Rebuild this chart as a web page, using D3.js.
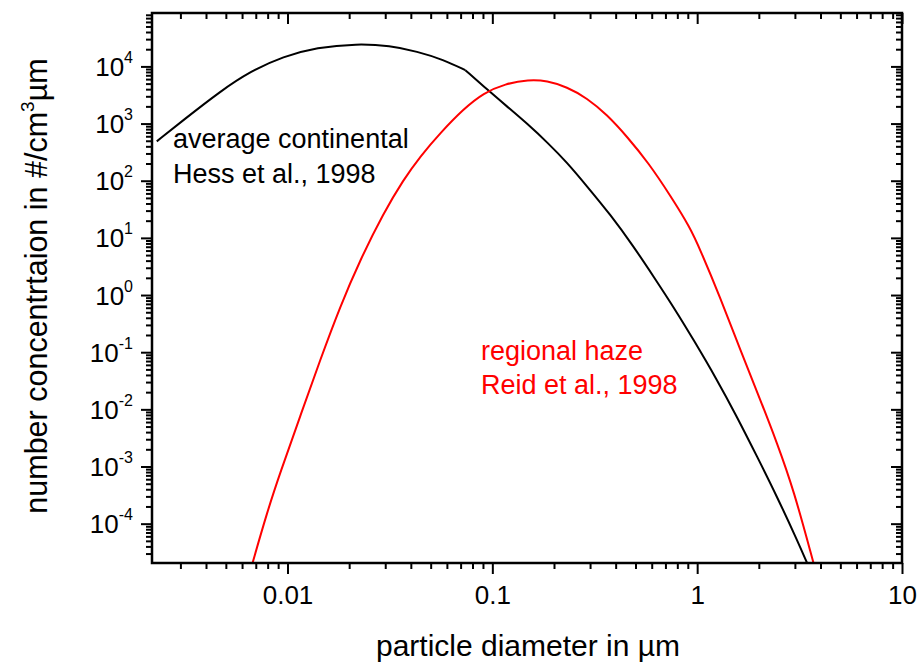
<!DOCTYPE html>
<html>
<head>
<meta charset="utf-8">
<script src="https://cdn.jsdelivr.net/npm/d3@7"></script>
<style>
  html, body { margin: 0; padding: 0; background: #fff; }
  svg { display: block; font-family: Arial, "Liberation Sans", sans-serif; }
</style>
</head>
<body>
<svg id="chart" width="917" height="663"></svg>
<script>
// Average continental aerosol size distribution (Hess et al., 1998)
const hessDiameter = [0.0023, 0.0031, 0.00469, 0.00658, 0.00955, 0.0139, 0.0218, 0.0317, 0.0429, 0.0578,
  0.0738, 0.0957, 0.118, 0.150, 0.185, 0.231, 0.290, 0.377, 0.489, 0.612,
  0.782, 0.959, 1.25, 1.56, 1.96, 2.45, 3.07, 3.44];
const hessConc = [488, 1148, 3656, 8185, 14962, 21478, 24946, 23014, 18281, 13092,
  8590, 3784, 1988, 955, 472, 211, 79.6, 25.5, 7.10, 2.12,
  0.553, 0.166, 0.0330, 0.00753, 0.00150, 3.0e-4, 5.25e-5, 2.05e-5];
// the average continental curve changes slope abruptly at this diameter
const hessBreakDiameter = 0.0738;

// Regional haze size distribution (Reid et al., 1998)
const reidDiameter = [0.00675, 0.00793, 0.00920, 0.01153, 0.01445, 0.01807, 0.02265, 0.02944, 0.0368, 0.0445,
  0.0557, 0.0723, 0.0906, 0.1156, 0.1503, 0.1849, 0.2312, 0.2897, 0.3631, 0.4539,
  0.5794, 0.7396, 0.9247, 1.035, 1.297, 1.622, 2.032, 2.455, 2.958, 3.698];
const reidConc = [2.05e-5, 1.54e-4, 7.71e-4, 0.00753, 0.0740, 0.632, 4.15, 27.2, 104, 268,
  684, 1799, 3428, 4977, 5848, 5623, 4365, 2799, 1429, 596,
  204, 55.0, 15.1, 6.21, 0.90, 0.111, 0.0148, 0.00258, 3.93e-4, 2.05e-5];

// Axis ticks
const xMajorTicks = [0.01, 0.1, 1, 10];
const xTickLabels = ["0.01", "0.1", "1", "10"];
const yExponents = [-4, -3, -2, -1, 0, 1, 2, 3, 4];

const xDomain = [0.00218, 10];
const yDomain = [2.05e-5, 8.6e4];

const margin = { left: 152, top: 13 };
const pw = 750, ph = 550;

const svg = d3.select("#chart");
const g = svg.append("g").attr("transform", `translate(${margin.left},${margin.top})`);

const x = d3.scaleLog().domain(xDomain).range([0, pw]);
const y = d3.scaleLog().domain(yDomain).range([ph, 0]);

// minor ticks (2..9 of each decade) inside the domain
function minorTicks(domain) {
  const out = [];
  const lo = Math.floor(Math.log10(domain[0])), hi = Math.ceil(Math.log10(domain[1]));
  for (let e = lo; e <= hi; e++) {
    for (let m = 2; m <= 9; m++) {
      const v = m * Math.pow(10, e);
      if (v > domain[0] * 1.0001 && v < domain[1] * 0.9999) out.push(v);
    }
  }
  return out;
}
const xMinor = minorTicks(xDomain);
const yMinor = minorTicks(yDomain);
const yMajor = yExponents.map(e => Math.pow(10, e));

const MAJ = 11, MIN = 6;

function styleAxis(sel) {
  sel.select(".domain").remove();
  sel.selectAll(".tick line").attr("stroke", "#000").attr("stroke-width", 2);
}

// bottom axis (ticks outward)
const xb = g.append("g").attr("transform", `translate(0,${ph})`)
  .call(d3.axisBottom(x).tickValues(xMajorTicks).tickSize(MAJ).tickPadding(12)
    .tickFormat((d, i) => xTickLabels[i]));
styleAxis(xb);
xb.selectAll(".tick text").attr("font-size", 26).attr("fill", "#000")
  .attr("font-family", "Arial, 'Liberation Sans', sans-serif");
styleAxis(g.append("g").attr("transform", `translate(0,${ph})`)
  .call(d3.axisBottom(x).tickValues(xMinor).tickSize(MIN).tickFormat("")));

// top axis (ticks inward)
styleAxis(g.append("g").call(d3.axisTop(x).tickValues(xMajorTicks).tickSize(-MAJ).tickFormat("")));
styleAxis(g.append("g").call(d3.axisTop(x).tickValues(xMinor).tickSize(-MIN).tickFormat("")));

// left axis (ticks outward) with power-of-ten labels
const yl = g.append("g")
  .call(d3.axisLeft(y).tickValues(yMajor).tickSize(MAJ).tickPadding(8).tickFormat(""));
styleAxis(yl);
yl.selectAll(".tick text").each(function (d) {
  const t = d3.select(this)
    .attr("font-size", 26).attr("fill", "#000").attr("dy", null)
    .attr("dominant-baseline", "central")
    .attr("font-family", "Arial, 'Liberation Sans', sans-serif")
    .attr("x", -19).attr("text-anchor", "end");
  t.text(null);
  t.append("tspan").text("10");
  t.append("tspan").attr("font-size", 16).attr("dy", -10)
    .text(String(Math.round(Math.log10(d))));
});
styleAxis(g.append("g").call(d3.axisLeft(y).tickValues(yMinor).tickSize(MIN).tickFormat("")));

// right axis (ticks inward)
styleAxis(g.append("g").attr("transform", `translate(${pw},0)`)
  .call(d3.axisRight(y).tickValues(yMajor).tickSize(-MAJ).tickFormat("")));
styleAxis(g.append("g").attr("transform", `translate(${pw},0)`)
  .call(d3.axisRight(y).tickValues(yMinor).tickSize(-MIN).tickFormat("")));

// curves
svg.append("defs").append("clipPath").attr("id", "plotClip")
  .append("rect").attr("width", pw).attr("height", ph);

const line = d3.line().x(d => x(d[0])).y(d => y(d[1])).curve(d3.curveBasis);
const plot = g.append("g").attr("clip-path", "url(#plotClip)");

const hessPts = d3.zip(hessDiameter, hessConc);
const breakIdx = hessDiameter.indexOf(hessBreakDiameter);
[hessPts.slice(0, breakIdx + 1), hessPts.slice(breakIdx)].forEach(seg => {
  plot.append("path").datum(seg)
    .attr("d", line).attr("fill", "none").attr("stroke", "#000")
    .attr("stroke-width", 2).attr("stroke-linejoin", "round");
});
plot.append("path").datum(d3.zip(reidDiameter, reidConc))
  .attr("d", line).attr("fill", "none").attr("stroke", "#ff0000").attr("stroke-width", 2);

// frame
g.append("rect").attr("width", pw).attr("height", ph)
  .attr("fill", "none").attr("stroke", "#000").attr("stroke-width", 2.5);

// annotations
const ann = g.append("g").attr("font-size", 27);
ann.append("text").attr("x", 173 - margin.left).attr("y", 148 - margin.top).attr("fill", "#000")
  .text("average continental");
ann.append("text").attr("x", 173 - margin.left).attr("y", 183 - margin.top).attr("fill", "#000")
  .text("Hess et al., 1998");
ann.append("text").attr("x", 481 - margin.left).attr("y", 360 - margin.top).attr("fill", "#ff0000")
  .text("regional haze");
ann.append("text").attr("x", 481 - margin.left).attr("y", 394 - margin.top).attr("fill", "#ff0000")
  .text("Reid et al., 1998");

// axis titles
svg.append("text").attr("x", 528).attr("y", 656)
  .attr("text-anchor", "middle").attr("font-size", 30).attr("fill", "#000")
  .text("particle diameter in µm");

const yt = svg.append("text")
  .attr("transform", `translate(47,286) rotate(-90)`)
  .attr("text-anchor", "middle").attr("font-size", 30.5).attr("fill", "#000");
yt.append("tspan").text("number concentrtaion in #/cm");
yt.append("tspan").attr("font-size", 19).attr("dy", -13).text("3");
yt.append("tspan").attr("dy", 13).text("µm");
</script>
</body>
</html>
